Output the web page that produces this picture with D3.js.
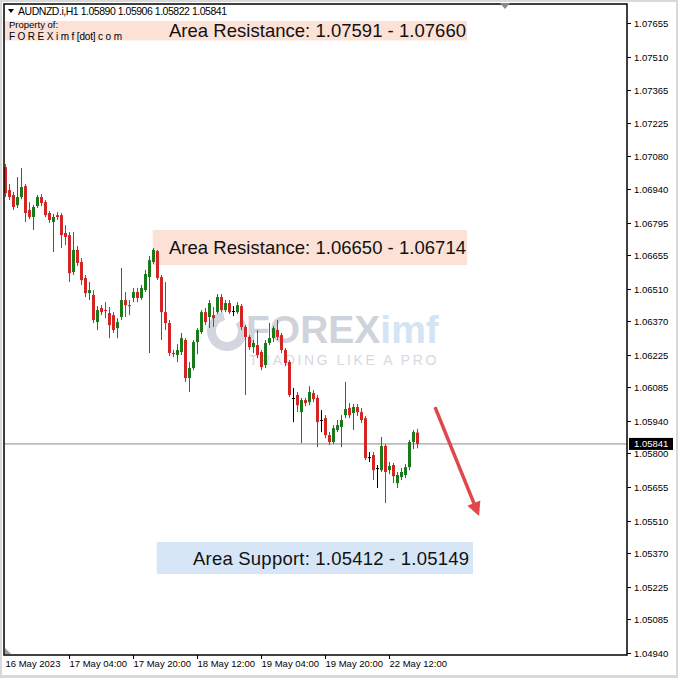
<!DOCTYPE html>
<html><head><meta charset="utf-8">
<script src="https://cdn.jsdelivr.net/npm/d3@7"></script>
<style>html,body{margin:0;padding:0;background:#fff;}svg{display:block;}</style>
</head><body><svg id="c" width="678" height="678"></svg>
<script>
// ---- data ----
const symbolTitle = "AUDNZD.i,H1  1.05890 1.05906 1.05822 1.05841";
const openP  = [1.07034,1.06935,1.06914,1.06870,1.06905,1.06952,1.06849,1.06819,1.06866,1.06905,1.06883,1.06836,1.06797,1.06827,1.06827,1.06750,1.06741,1.06582,1.06677,1.06625,1.06556,1.06491,1.06483,1.06366,1.06427,1.06418,1.06405,1.06396,1.06340,1.06388,1.06461,1.06439,1.06470,1.06496,1.06470,1.06504,1.06560,1.06625,1.06672,1.06560,1.06409,1.06362,1.06233,1.06224,1.06237,1.06289,1.06125,1.06168,1.06280,1.06323,1.06409,1.06388,1.06396,1.06409,1.06474,1.06418,1.06448,1.06414,1.06409,1.06435,1.06345,1.06302,1.06258,1.06267,1.06237,1.06181,1.06276,1.06297,1.06332,1.06310,1.06246,1.06194,1.06039,1.06052,1.05978,1.06030,1.06021,1.06060,1.06039,1.05944,1.05952,1.05879,1.05849,1.05901,1.05914,1.05965,1.05996,1.05974,1.06000,1.05978,1.05952,1.05784,1.05793,1.05737,1.05728,1.05832,1.05728,1.05750,1.05672,1.05698,1.05707,1.05741,1.05849,1.05890];
const highP  = [1.07047,1.06961,1.06927,1.06991,1.07030,1.06961,1.06883,1.06870,1.06914,1.06918,1.06892,1.06845,1.06832,1.06840,1.06836,1.06784,1.06754,1.06754,1.06694,1.06642,1.06569,1.06539,1.06504,1.06435,1.06439,1.06452,1.06431,1.06409,1.06383,1.06599,1.06496,1.06461,1.06513,1.06513,1.06526,1.06590,1.06651,1.06685,1.06677,1.06569,1.06539,1.06375,1.06246,1.06271,1.06319,1.06297,1.06194,1.06289,1.06340,1.06418,1.06427,1.06461,1.06431,1.06487,1.06487,1.06461,1.06461,1.06435,1.06452,1.06444,1.06353,1.06310,1.06289,1.06332,1.06246,1.06289,1.06362,1.06349,1.06375,1.06319,1.06254,1.06202,1.06082,1.06065,1.06039,1.06039,1.06090,1.06073,1.06052,1.05987,1.05965,1.05892,1.05922,1.05944,1.05965,1.06108,1.06017,1.06013,1.06013,1.05996,1.05961,1.05806,1.05806,1.05750,1.05871,1.05840,1.05763,1.05759,1.05720,1.05737,1.05754,1.05858,1.05901,1.05906];
const lowP   = [1.06905,1.06892,1.06849,1.06858,1.06896,1.06797,1.06810,1.06763,1.06858,1.06866,1.06819,1.06793,1.06668,1.06806,1.06685,1.06698,1.06539,1.06569,1.06608,1.06526,1.06474,1.06461,1.06362,1.06332,1.06396,1.06383,1.06297,1.06319,1.06297,1.06375,1.06388,1.06396,1.06452,1.06452,1.06461,1.06496,1.06233,1.06616,1.06547,1.06289,1.06332,1.06220,1.06215,1.06194,1.06224,1.06108,1.06065,1.06159,1.06228,1.06315,1.06353,1.06340,1.06345,1.06401,1.06409,1.06409,1.06401,1.06392,1.06401,1.06332,1.06052,1.06246,1.06233,1.06211,1.06159,1.06168,1.06267,1.06280,1.06289,1.06233,1.06176,1.06043,1.05935,1.05978,1.05845,1.06004,1.06008,1.06021,1.05827,1.05892,1.05866,1.05836,1.05840,1.05892,1.05827,1.05952,1.05952,1.05901,1.05961,1.05931,1.05771,1.05763,1.05685,1.05651,1.05720,1.05586,1.05711,1.05672,1.05651,1.05685,1.05694,1.05728,1.05819,1.05822];
const closeP = [1.06922,1.06905,1.06862,1.06905,1.06948,1.06836,1.06819,1.06862,1.06905,1.06879,1.06827,1.06806,1.06819,1.06819,1.06741,1.06733,1.06577,1.06677,1.06621,1.06547,1.06491,1.06504,1.06375,1.06418,1.06409,1.06414,1.06353,1.06332,1.06366,1.06461,1.06439,1.06435,1.06496,1.06470,1.06513,1.06573,1.06633,1.06677,1.06556,1.06409,1.06362,1.06233,1.06228,1.06246,1.06297,1.06125,1.06168,1.06280,1.06332,1.06409,1.06366,1.06448,1.06383,1.06474,1.06418,1.06448,1.06409,1.06414,1.06439,1.06345,1.06302,1.06258,1.06276,1.06224,1.06172,1.06276,1.06297,1.06340,1.06302,1.06246,1.06190,1.06052,1.06039,1.06008,1.06030,1.06017,1.06065,1.06034,1.05935,1.05944,1.05879,1.05849,1.05909,1.05922,1.05944,1.05991,1.05965,1.06000,1.05978,1.05944,1.05780,1.05784,1.05728,1.05737,1.05832,1.05720,1.05746,1.05702,1.05707,1.05720,1.05741,1.05849,1.05892,1.05841];
const priceTicks = ["1.07655","1.07510","1.07365","1.07225","1.07080","1.06940","1.06795","1.06655","1.06510","1.06370","1.06225","1.06085","1.05940","1.05800","1.05655","1.05510","1.05370","1.05225","1.05085","1.04940"];
const timeLabels = ["16 May 2023","17 May 04:00","17 May 20:00","18 May 12:00","19 May 04:00","19 May 20:00","22 May 12:00"];
const timeLabelBars = [0,16,32,48,64,80,96];
const currentPrice = 1.05841;
const zoneLabels = ["Area Resistance: 1.07591 - 1.07660","Area Resistance: 1.06650 - 1.06714","Area Support: 1.05412 - 1.05149"];
const zoneTop    = [1.07663, 1.06763, 1.05418];
const zoneBottom = [1.07580, 1.06612, 1.05280];
const zoneStartBar = [0, 37, 38];
const zoneEndBar   = [115.5, 115.5, 117];
const arrowFrom = [107.5, 1.06000];
const arrowTo   = [118.5, 1.05530];

// ---- layout ----
const svg = d3.select("#c");
const L = 4, R = 627, T = 4, B = 655;
const x = d3.scaleLinear().domain([0, 103]).range([4.5, 417]);
const y = d3.scaleLinear().domain([1.04940, 1.07655]).range([653, 23]);
const bw = 3;
const FONT = "'Liberation Sans', Arial, sans-serif";

// outer window
svg.append("rect").attr("x",0).attr("y",0).attr("width",678).attr("height",678).attr("fill","#d9d9d9");
svg.append("rect").attr("x",2).attr("y",2).attr("width",674).attr("height",673).attr("fill","#fff");

const plot = svg.append("g");
plot.append("defs").append("clipPath").attr("id","clip").append("rect")
  .attr("x",L).attr("y",T).attr("width",R-L).attr("height",B-T);
const g = plot.append("g").attr("clip-path","url(#clip)");

// zones
zoneLabels.forEach((t,k)=>{
  const x0 = x(zoneStartBar[k]) - (k===0?4:0), x1 = x(zoneEndBar[k]);
  g.append("rect").attr("x",x0).attr("y",y(zoneTop[k]))
    .attr("width",x1-x0).attr("height",y(zoneBottom[k])-y(zoneTop[k]))
    .attr("fill", k===2 ? "#d6e6f7" : "#fbe1d6");
});

// watermark
const wm = g.append("g");
wm.append("path").attr("d", d3.arc()({innerRadius:11, outerRadius:20, startAngle:0.9, endAngle:2*Math.PI-0.2}))
  .attr("transform","translate(227,331)").attr("fill","#d2d6de");
const wt = wm.append("text").attr("x",246).attr("y",343).attr("font-family",FONT).attr("font-weight","bold")
  .attr("font-size",39);
wt.append("tspan").attr("fill","#cfd3db").text("FOREX");
wt.append("tspan").attr("fill","#d3e4f4").text("imf");
wm.append("text").attr("x",249).attr("y",365).attr("font-family",FONT)
  .attr("font-size",14).attr("letter-spacing",2.6).attr("fill","#d6d9df").text("TRADING LIKE A PRO");

// current price line
g.append("line").attr("x1",L).attr("x2",R).attr("y1",y(currentPrice)).attr("y2",y(currentPrice))
  .attr("stroke","#8a8a8a").attr("stroke-width",1);

// candles
const idx = d3.range(openP.length);
const col = i => closeP[i] > openP[i] ? "#1a7a1a" : (closeP[i] < openP[i] ? "#d42424" : "#000");
const cg = g.append("g");
cg.selectAll("line.w").data(idx).join("line").attr("class","w")
  .attr("x1",i=>Math.round(x(i))+0.5).attr("x2",i=>Math.round(x(i))+0.5)
  .attr("y1",i=>y(highP[i])).attr("y2",i=>y(lowP[i]))
  .attr("stroke",col).attr("stroke-width",1);
cg.selectAll("rect.b").data(idx).join("rect").attr("class","b")
  .attr("x",i=>Math.round(x(i))-1).attr("width",bw)
  .attr("y",i=>Math.min(y(openP[i]),y(closeP[i])))
  .attr("height",i=>Math.max(1,Math.abs(y(openP[i])-y(closeP[i]))))
  .attr("fill",col);

// zone labels
const lblX = [169, 169, 193];
const lblW = [297, 297, 276];
zoneLabels.forEach((t,k)=>{
  g.append("text").attr("x",lblX[k]).attr("y",(y(zoneTop[k])+y(zoneBottom[k]))/2+6.5)
    .attr("font-family",FONT).attr("font-size",18.5).attr("fill","#111")
    .attr("textLength",lblW[k]).attr("lengthAdjust","spacing").text(t);
});

// arrow
const ax0 = x(arrowFrom[0]), ay0 = y(arrowFrom[1]), ax1 = x(arrowTo[0]), ay1 = y(arrowTo[1]);
const ang = Math.atan2(ay1-ay0, ax1-ax0);
const hl = 14, hw = 7;
g.append("line").attr("x1",ax0).attr("y1",ay0)
  .attr("x2",ax1-Math.cos(ang)*hl*0.8).attr("y2",ay1-Math.sin(ang)*hl*0.8)
  .attr("stroke","#e0474c").attr("stroke-width",3.5);
g.append("path").attr("d",`M${ax1},${ay1} L${ax1-Math.cos(ang)*hl - Math.sin(ang)*hw},${ay1-Math.sin(ang)*hl + Math.cos(ang)*hw} L${ax1-Math.cos(ang)*hl + Math.sin(ang)*hw},${ay1-Math.sin(ang)*hl - Math.cos(ang)*hw} Z`)
  .attr("fill","#e0474c");

// header texts
svg.append("path").attr("d","M8,9 L14,9 L11,13 Z").attr("fill","#000");
svg.append("text").attr("x",18).attr("y",14.5).attr("font-family",FONT).attr("font-size",10.5)
  .attr("textLength",209).attr("lengthAdjust","spacing").attr("fill","#000").text(symbolTitle);
svg.append("text").attr("x",9).attr("y",28).attr("font-family",FONT).attr("font-size",9.5).attr("fill","#000").text("Property of:");
svg.append("text").attr("x",9).attr("y",40).attr("font-family",FONT).attr("font-size",10)
  .attr("textLength",113).attr("lengthAdjust","spacing").attr("fill","#000").text("F O R E X i m f [dot] c o m");

// frame
svg.append("rect").attr("x",L).attr("y",T).attr("width",R-L).attr("height",B-T)
  .attr("fill","none").attr("stroke","#000").attr("stroke-width",1.5);
// shift marker
svg.append("path").attr("d","M500,3 L510,3 L505,9 Z").attr("fill","#888");
svg.append("path").attr("d","M5,648 L5,654 L11,654 Z").attr("fill","#999");

// price axis
const pa = svg.append("g");
priceTicks.forEach(t=>{
  const yy = Math.round(y(+t))+0.5;
  pa.append("line").attr("x1",R).attr("x2",R+4).attr("y1",yy).attr("y2",yy).attr("stroke","#000");
  pa.append("text").attr("x",R+7).attr("y",yy+3.5).attr("font-family",FONT).attr("font-size",9.5).attr("fill","#000").text(t);
});
// current price label
const cy = y(currentPrice);
pa.append("rect").attr("x",R+2).attr("y",cy-6).attr("width",44).attr("height",12).attr("fill","#000");
pa.append("text").attr("x",R+7).attr("y",cy+3.5).attr("font-family",FONT).attr("font-size",9.5).attr("fill","#fff").text(d3.format(".5f")(currentPrice));

// time axis
const ta = svg.append("g");
timeLabels.forEach((t,k)=>{
  const xx = Math.round(x(timeLabelBars[k]))+0.5;
  if (k>0) ta.append("line").attr("x1",xx).attr("x2",xx).attr("y1",B).attr("y2",B+4).attr("stroke","#000");
  ta.append("text").attr("x",xx).attr("y",B+12).attr("font-family",FONT).attr("font-size",9.5).attr("fill","#000").text(t);
});
</script></body></html>
